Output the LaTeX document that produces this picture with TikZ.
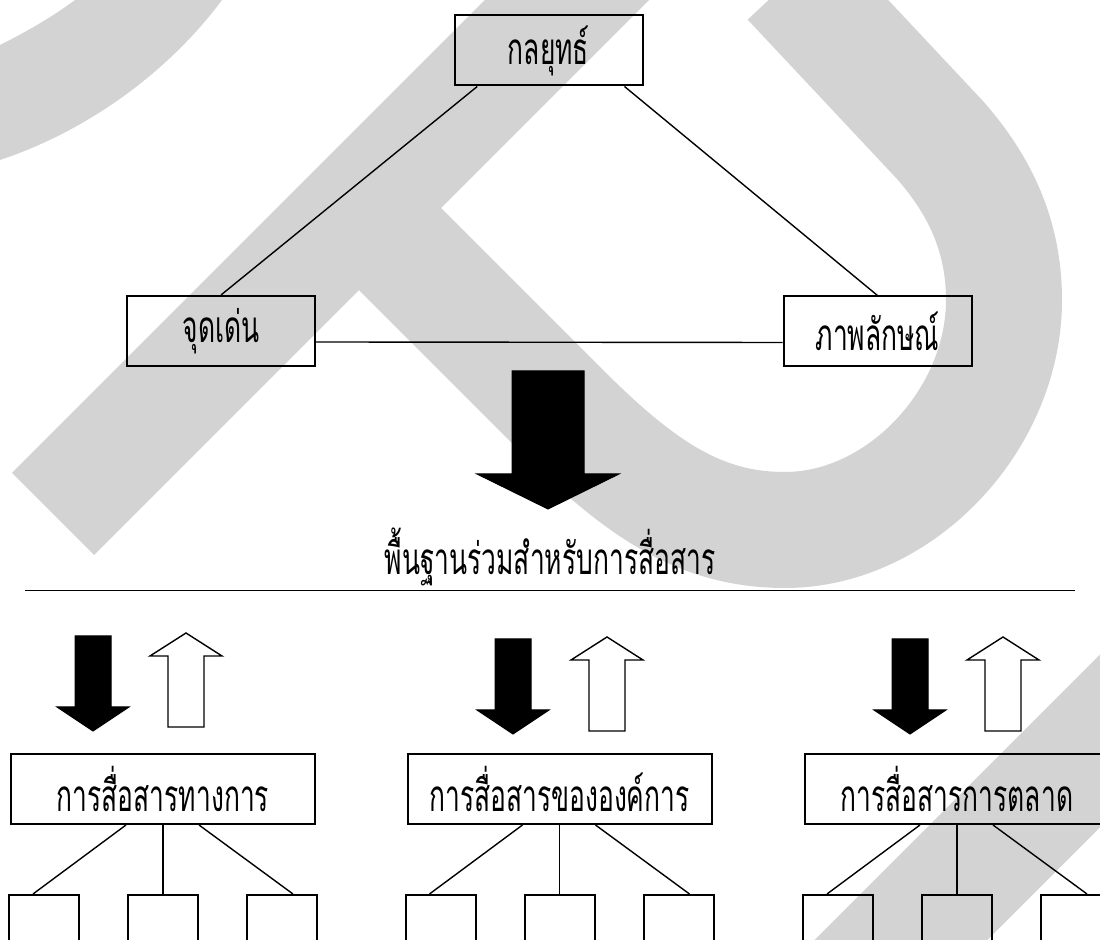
\documentclass[tikz,border=0pt]{standalone}
\usepackage{fontspec}
\usepackage{tikz}
\usetikzlibrary{positioning,calc}
\usepackage{xcolor}
\newfontfamily\thaifont[Script=Thai,FakeStretch=0.6]{Loma}
\definecolor{markgray}{HTML}{D3D3D3}

\begin{document}
\begin{tikzpicture}[
  x=0.5pt,y=-0.5pt,
  node distance=34.5pt and 23.5pt,
  thaitext/.style={font=\thaifont\fontsize{22}{26}\selectfont},
  box/.style={thaitext,draw,line width=1pt,inner sep=0pt,minimum height=35pt},
  corebox/.style={box,minimum width=94pt},
  groupbox/.style={box,minimum width=152pt},
  leaf/.style={draw,line width=1pt,minimum width=35pt,minimum height=35pt,inner sep=0pt},
  link/.style={line width=0.7pt},
  solidarrow/.style={fill=black,draw=black,line width=0.5pt,line join=miter},
  hollowarrow/.style={draw=black,line width=0.7pt,line join=miter},
  stamp/.style={draw=markgray,line width=58pt,line cap=butt}
]
\useasboundingbox (0,0) rectangle (1100,940);
\clip (0,0) rectangle (1100,940);

% watermark behind the diagram
\fill[markgray] (0,45) .. controls (30,30) and (55,15) .. (75,0) -- (222,0) .. controls (170,70) and (90,130) .. (0,160) -- cycle;
\draw[stamp] (53,514) -- (620,-53);
\draw[stamp] (330,179) -- (560,409) .. controls (640,489) and (700,530) .. (785,530)
  .. controls (900,530) and (1004,420) .. (1004,300)
  .. controls (1004,230) and (975,180) .. (940,140) -- (790,-20);
\draw[draw=markgray,line width=61pt] (850,991) -- (1160,681);

% upper triangle
\node[corebox] (strat) at (548.5,50.5) {กลยุทธ์};
\node[corebox] (strength) at (221,331) {จุดเด่น};
\node[corebox] (image) at (877.5,331.5) {ภาพลักษณ์};
\draw[link] ($(strat.south west)!0.125!(strat.south east)$) -- (strength.north);
\draw[link] ($(strat.south west)!0.9!(strat.south east)$) -- (image.north);
\draw[link] ($(strength.east)+(0,11)$) -- ($(image.west)+(0,11)$);

\draw[solidarrow] (548,509) -- ++(-71,-35) -- ++(35,0) -- ++(0,-103) -- ++(72,0) -- ++(0,103) -- ++(35,0) -- cycle;

\node[thaitext] (base) at (550,557) {พื้นฐานร่วมสำหรับการสื่อสาร};
\coordinate (ruleL) at (25,590.5);
\coordinate (ruleR) at (1075,590.5);
\draw[line width=0.8pt] (ruleL) -- (ruleR);

% three channels
\node[groupbox] (g1) at (163,789) {การสื่อสารทางการ};
\node[groupbox] (g2) at (559.5,789) {การสื่อสารขององค์การ};
\node[groupbox] (g3) at (957,789) {การสื่อสารการตลาด};

\draw[solidarrow] (93,731) -- ++(-36,-24) -- ++(18,0) -- ++(0,-71) -- ++(36,0) -- ++(0,71) -- ++(18,0) -- cycle;
\draw[hollowarrow] (186,633) -- ++(-36,23) -- ++(18,0) -- ++(0,71) -- ++(36,0) -- ++(0,-71) -- ++(18,0) -- cycle;
\draw[solidarrow] (513,734) -- ++(-36,-24) -- ++(18,0) -- ++(0,-71) -- ++(36,0) -- ++(0,71) -- ++(18,0) -- cycle;
\draw[hollowarrow] (607,637) -- ++(-36,23) -- ++(18,0) -- ++(0,71) -- ++(36,0) -- ++(0,-71) -- ++(18,0) -- cycle;
\draw[solidarrow] (910,734) -- ++(-36,-24) -- ++(18,0) -- ++(0,-71) -- ++(36,0) -- ++(0,71) -- ++(18,0) -- cycle;
\draw[hollowarrow] (1003,637) -- ++(-36,23) -- ++(18,0) -- ++(0,71) -- ++(36,0) -- ++(0,-71) -- ++(18,0) -- cycle;

\node[leaf,below=of g1] (g1m) {};
\node[leaf,left=of g1m] (g1l) {};
\node[leaf,right=of g1m] (g1r) {};
\node[leaf,below=of g2] (g2m) {};
\node[leaf,left=of g2m] (g2l) {};
\node[leaf,right=of g2m] (g2r) {};
\node[leaf,below=of g3] (g3m) {};
\node[leaf,left=of g3m] (g3l) {};
\node[leaf,right=of g3m] (g3r) {};

\draw[link] ($(g1.south)+(-37,0)$) -- ($(g1l.north)+(-11,0)$);
\draw[link] (g1.south) -- (g1m.north);
\draw[link] ($(g1.south)+(36,0)$) -- ($(g1r.north)+(11,0)$);
\draw[link] ($(g2.south)+(-37,0)$) -- ($(g2l.north)+(-11,0)$);
\draw[link] (g2.south) -- (g2m.north);
\draw[link] ($(g2.south)+(36,0)$) -- ($(g2r.north)+(11,0)$);
\draw[link] ($(g3.south)+(-37,0)$) -- ($(g3l.north)+(-11,0)$);
\draw[link] (g3.south) -- (g3m.north);
\draw[link] ($(g3.south)+(36,0)$) -- ($(g3r.north)+(11,0)$);
\end{tikzpicture}
\end{document}
